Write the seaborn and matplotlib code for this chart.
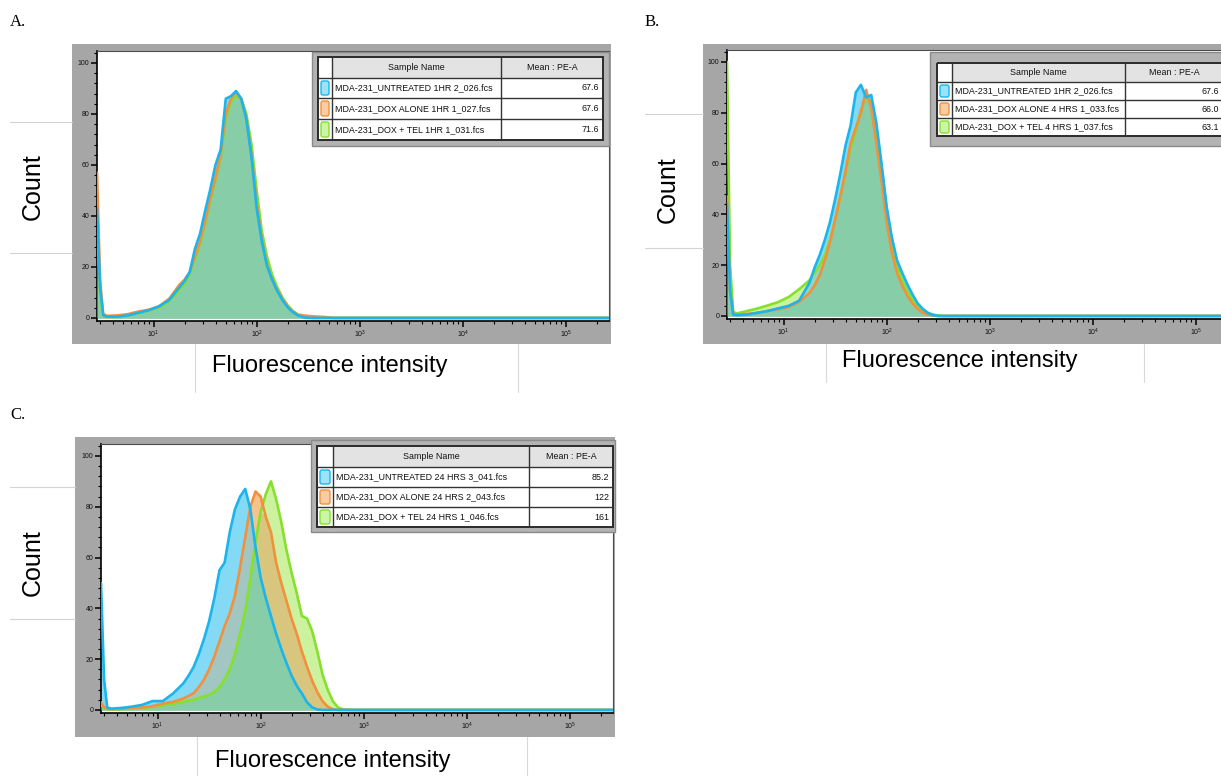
import numpy as np
import pandas as pd
import matplotlib.pyplot as plt
import seaborn as sns
from matplotlib.patches import Rectangle, FancyBboxPatch
from matplotlib.ticker import LogLocator, MultipleLocator, NullFormatter

sns.set_theme(style="white")
plt.rcParams['font.family'] = ['Liberation Sans', 'DejaVu Sans']

# ---- data read off the FlowJo overlays ----
# histogram bin positions, log10(PE-A)
log_pe = [0.45, 0.48, 0.51, 0.55, 0.65, 0.75, 0.85, 0.95, 1.05, 1.15,
          1.25, 1.30, 1.35, 1.40, 1.45, 1.50, 1.55, 1.60, 1.65, 1.70,
          1.75, 1.80, 1.85, 1.90, 1.95, 2.00, 2.05, 2.10, 2.15, 2.20,
          2.25, 2.30, 2.35, 2.40, 2.45, 2.50, 2.55, 2.60, 2.65, 2.70,
          2.75, 2.80, 2.90, 3.00, 4.00, 5.42]

# A. 1 hour
a_untreated = [43, 12, 1, 0.5, 0.5, 1, 2, 3, 4.5, 7,
               12, 14.5, 18, 27, 33, 42, 50.5, 60, 66, 86,
               87, 89, 86, 78, 63, 43, 30, 20.5, 15, 10.5,
               7, 4.2, 2.3, 1, 0.3, 0, 0, 0, 0, 0,
               0, 0, 0, 0, 0, 0]
a_dox = [57, 15, 1.5, 0.8, 1, 1.5, 2.5, 3.2, 4.5, 7.5,
         13, 15, 18, 24, 30, 38, 47, 55, 64, 80,
         86, 88.5, 86, 78, 64, 45, 31, 21, 15, 11,
         7.5, 4.5, 2.5, 1.3, 1, 0.8, 0.6, 0.5, 0.4, 0.2,
         0, 0, 0, 0, 0, 0]
a_doxtel = [40, 10, 1, 0.5, 0.5, 1, 1.8, 2.8, 4, 6.5,
            11, 13.5, 17, 23, 29, 37, 46, 54, 63, 78,
            85, 87, 86, 80, 68, 50, 34, 24, 17, 12,
            8, 5, 2.8, 1.3, 0.5, 0.2, 0, 0, 0, 0,
            0, 0, 0, 0, 0, 0]

# B. 4 hours
b_untreated = [44, 10, 0.5, 0.3, 0.6, 1.3, 2, 3, 4, 6,
               13, 19, 24, 30, 37, 46, 56, 67, 75, 88,
               91, 86, 87, 76, 60, 43, 31, 22, 17, 12.5,
               8.5, 5, 2.8, 1.2, 0.3, 0, 0, 0, 0, 0,
               0, 0, 0, 0, 0, 0]
b_dox = [47, 10, 1, 0.5, 0.8, 1.2, 2, 2.7, 3.5, 5.5,
         9, 12, 16, 22, 29, 38, 47, 57, 68, 74,
         80, 89, 82, 68, 53, 37, 25, 17, 12, 8,
         5, 2.8, 1.3, 0.5, 0.2, 0, 0, 0, 0, 0,
         0, 0, 0, 0, 0, 0]
b_doxtel = [100, 20, 1.5, 1, 2, 3, 4.2, 5.5, 7.5, 10.5,
            14, 17, 20, 24, 30, 38, 47, 56, 66, 73,
            81, 86, 84, 73, 58, 42, 29, 20, 14, 10,
            6.5, 4, 2.2, 1.2, 0.6, 0.2, 0, 0, 0, 0,
            0, 0, 0, 0, 0, 0]

# C. 24 hours
c_untreated = [50, 12, 1, 0.5, 0.8, 1.3, 2, 3.5, 3.5, 6.5,
               10.5, 13.5, 17, 22, 28, 35, 44, 55, 58, 70,
               79, 84, 87, 79, 64, 52, 44, 37, 30, 24,
               18.5, 13.5, 9.5, 6.5, 3, 1, 0.2, 0, 0, 0,
               0, 0, 0, 0, 0, 0]
c_dox = [3, 1, 0.5, 0.3, 0.5, 0.8, 1, 1.5, 2.5, 3.2,
         4.5, 5.5, 6.6, 9, 12, 16, 21, 27, 33, 38,
         45, 56, 68, 80, 86, 84, 76, 70, 58, 50,
         43, 36, 30, 23, 17, 11.5, 7, 3.5, 1.3, 0.3,
         0, 0, 0, 0, 0, 0]
c_doxtel = [2, 0.8, 0.3, 0.2, 0.3, 0.5, 0.8, 1.2, 1.8, 2.5,
            3.2, 3.6, 4, 4.8, 5.3, 6, 7, 9, 12, 16,
            22, 30, 39, 52, 66, 78, 85, 90, 83, 74,
            63, 54, 46, 37, 36, 31, 23, 14, 8, 3.5,
            1, 0.2, 0, 0, 0, 0]

names_a = ['MDA-231_UNTREATED 1HR 2_026.fcs', 'MDA-231_DOX ALONE 1HR 1_027.fcs',
           'MDA-231_DOX + TEL 1HR 1_031.fcs']
means_a = ['67.6', '67.6', '71.6']
names_b = ['MDA-231_UNTREATED 1HR 2_026.fcs', 'MDA-231_DOX ALONE 4 HRS 1_033.fcs',
           'MDA-231_DOX + TEL 4 HRS 1_037.fcs']
means_b = ['67.6', '66.0', '63.1']
names_c = ['MDA-231_UNTREATED 24 HRS 3_041.fcs', 'MDA-231_DOX ALONE 24 HRS 2_043.fcs',
           'MDA-231_DOX + TEL 24 HRS 1_046.fcs']
means_c = ['85.2', '122', '161']

# ---- styling ----
W, H = 1221, 776
KEYS = ['untreated', 'dox', 'doxtel']
LINE = {'untreated': '#1CB4EC', 'dox': '#F2903E', 'doxtel': '#86E02C'}
FILL = {'untreated': '#84D9F4', 'dox': '#F5C38E', 'doxtel': '#CCF2A0'}
SWATCH = {'untreated': '#9BE3F7', 'dox': '#F9CDA3', 'doxtel': '#CDF5A8'}
PAIR_UD = '#A2C7C2'
PAIR_DT = '#D8C67F'
PAIR_UT = '#93D5BD'
TRIPLE = '#86CDA8'
TABLE_FONT = ['Liberation Sans', 'DejaVu Sans']
TABLE_SIZE = 6.4

fig = plt.figure(figsize=(W / 100, H / 100), dpi=100)


def px_rect(x0, y0, x1, y1):
    return [x0 / W, 1 - y1 / H, (x1 - x0) / W, (y1 - y0) / H]


bg = fig.add_axes(px_rect(0, 0, 1260, H), zorder=-1)
bg.set_xlim(0, 1260)
bg.set_ylim(H, 0)
bg.axis('off')

ov = fig.add_axes(px_rect(0, 0, 1260, H), zorder=5)
ov.set_xlim(0, 1260)
ov.set_ylim(H, 0)
ov.axis('off')


def draw_hist(ax, counts):
    x = 10 ** np.asarray(log_pe)
    u, d, t = (np.asarray(c, float) for c in counts)
    for key, c in zip(KEYS, (u, d, t)):
        ax.fill_between(x, 0, c, color=FILL[key], lw=0, zorder=1)
    ax.fill_between(x, 0, np.minimum(u, d), color=PAIR_UD, lw=0, zorder=2)
    ax.fill_between(x, 0, np.minimum(d, t), color=PAIR_DT, lw=0, zorder=2)
    ax.fill_between(x, 0, np.minimum(u, t), color=PAIR_UT, lw=0, zorder=2)
    ax.fill_between(x, 0, np.minimum(np.minimum(u, d), t), color=TRIPLE, lw=0, zorder=3)
    df = pd.DataFrame({
        'pe': np.tile(x, 3),
        'count': np.concatenate([t, d, u]),
        'sample': np.repeat(['doxtel', 'dox', 'untreated'], len(x)),
    })
    sns.lineplot(data=df, x='pe', y='count', hue='sample',
                 hue_order=['doxtel', 'dox', 'untreated'], palette=LINE,
                 legend=False, ax=ax, lw=1.9, zorder=4)


def style_axes(ax):
    ax.set_xscale('log')
    ax.set_xlim(10 ** 0.45, 10 ** 5.42)
    ax.set_ylim(-1.2, 104.7)
    ax.set_facecolor('white')
    ax.grid(False)
    ax.set_xlabel('')
    ax.set_ylabel('')
    ax.xaxis.set_major_locator(LogLocator(base=10, numticks=12))
    ax.xaxis.set_minor_locator(LogLocator(base=10, subs=np.arange(2, 10), numticks=12))
    ax.xaxis.set_minor_formatter(NullFormatter())
    ax.yaxis.set_major_locator(MultipleLocator(20))
    ax.yaxis.set_minor_locator(MultipleLocator(4))
    ax.tick_params(which='both', direction='out', color='black',
                   bottom=True, left=True, top=False, right=False)
    ax.tick_params(which='major', length=4, width=1.1, labelsize=5, pad=1.5,
                   labelcolor='#111111')
    ax.tick_params(which='minor', length=2.2, width=0.8)
    for s in ('left', 'bottom'):
        ax.spines[s].set(color='black', lw=1.2)
    for s in ('top', 'right'):
        ax.spines[s].set(color='#4d4d4d', lw=0.8)


def draw_legend(frame, cols, rows, names, means):
    fx0, fy0, fx1, fy1 = frame
    ov.add_patch(Rectangle((fx0, fy0), fx1 - fx0, fy1 - fy0, facecolor='#B3B3B3',
                           edgecolor='#8A8A8A', lw=1.0))
    c0, c1, c2, c3 = cols
    r0, r1, rb = rows[0], rows[1], rows[-1]
    ov.add_patch(Rectangle((c0, r0), c3 - c0, rb - r0, facecolor='white', edgecolor='none'))
    ov.add_patch(Rectangle((c1, r0), c3 - c1, r1 - r0, facecolor='#E3E3E3', edgecolor='none'))
    for r in rows[1:-1]:
        ov.plot([c0, c3], [r, r], color='#333333', lw=1.0)
    for c in (c1, c2):
        ov.plot([c, c], [r0, rb], color='#333333', lw=1.0)
    ov.add_patch(Rectangle((c0, r0), c3 - c0, rb - r0, facecolor='none',
                           edgecolor='#2b2b2b', lw=1.4))
    ov.text((c1 + c2) / 2, (r0 + r1) / 2, 'Sample Name', ha='center', va='center',
            fontsize=TABLE_SIZE, family=TABLE_FONT, color='#111111')
    ov.text((c2 + c3) / 2, (r0 + r1) / 2, 'Mean : PE-A', ha='center', va='center',
            fontsize=TABLE_SIZE, family=TABLE_FONT, color='#111111')
    for i, key in enumerate(KEYS):
        ya, yb = rows[i + 1], rows[i + 2]
        ov.add_patch(FancyBboxPatch((c0 + 3, ya + 3), c1 - c0 - 6, yb - ya - 6,
                                    boxstyle='round,pad=0,rounding_size=2',
                                    facecolor=SWATCH[key], edgecolor=LINE[key], lw=1.0))
        ov.text(c1 + 3, (ya + yb) / 2, names[i], ha='left', va='center',
                fontsize=TABLE_SIZE, family=TABLE_FONT, color='#111111')
        ov.text(c3 - 4, (ya + yb) / 2, means[i], ha='right', va='center',
                fontsize=TABLE_SIZE, family=TABLE_FONT, color='#111111')


panels = [
    dict(label='A.', label_xy=(10, 22), frame=(72, 44, 611, 344), plot=(97, 51, 609, 321),
         series=(a_untreated, a_dox, a_doxtel), names=names_a, means=means_a,
         legend_frame=(312, 52, 609, 146), cols=(318, 332, 501, 603),
         rows=(57, 78, 98, 119, 140), count_xy=(33, 187), count_lines=(10, 72, 122, 253),
         xlab_xy=(330, 366), xlab_box=(195, 518, 344, 392)),
    dict(label='B.', label_xy=(645, 22), frame=(703, 44, 1260, 344), plot=(727, 50, 1239, 319),
         series=(b_untreated, b_dox, b_doxtel), names=names_b, means=means_b,
         legend_frame=(930, 52, 1260, 146), cols=(937, 952, 1125, 1223),
         rows=(63, 82, 100, 118, 136), count_xy=(668, 190), count_lines=(645, 703, 114, 248),
         xlab_xy=(960, 361), xlab_box=(826, 1144, 344, 382)),
    dict(label='C.', label_xy=(10, 415), frame=(75, 437, 615, 737), plot=(101, 444, 613, 713),
         series=(c_untreated, c_dox, c_doxtel), names=names_c, means=means_c,
         legend_frame=(311, 440, 615, 532), cols=(317, 333, 529, 613),
         rows=(446, 467, 487, 507, 527), count_xy=(33, 563), count_lines=(10, 75, 487, 619),
         xlab_xy=(333, 761), xlab_box=(197, 527, 737, 776)),
]

for p in panels:
    fx0, fy0, fx1, fy1 = p['frame']
    bg.add_patch(Rectangle((fx0, fy0), fx1 - fx0, fy1 - fy0, facecolor='#A6A6A6', edgecolor='none'))
    bg.text(*p['label_xy'], p['label'], family=['Liberation Serif', 'DejaVu Serif'],
            fontsize=12, ha='left', va='center', color='black')
    lx0, lx1, ly0, ly1 = p['count_lines']
    for ly in (ly0, ly1):
        bg.plot([lx0, lx1], [ly, ly], color='#D3D3D3', lw=0.8)
    bg.text(*p['count_xy'], 'Count', rotation=90, fontsize=18, ha='center', va='center',
            color='black')
    bx0, bx1, by0, by1 = p['xlab_box']
    for bx in (bx0, bx1):
        bg.plot([bx, bx], [by0, by1], color='#D8D8D8', lw=0.8)
    bg.text(*p['xlab_xy'], 'Fluorescence intensity', fontsize=17, ha='center', va='center',
            color='black')

    ax = fig.add_axes(px_rect(*p['plot']))
    draw_hist(ax, p['series'])
    style_axes(ax)

    draw_legend(p['legend_frame'], p['cols'], p['rows'], p['names'], p['means'])

fig.savefig('out.png', dpi=100)
